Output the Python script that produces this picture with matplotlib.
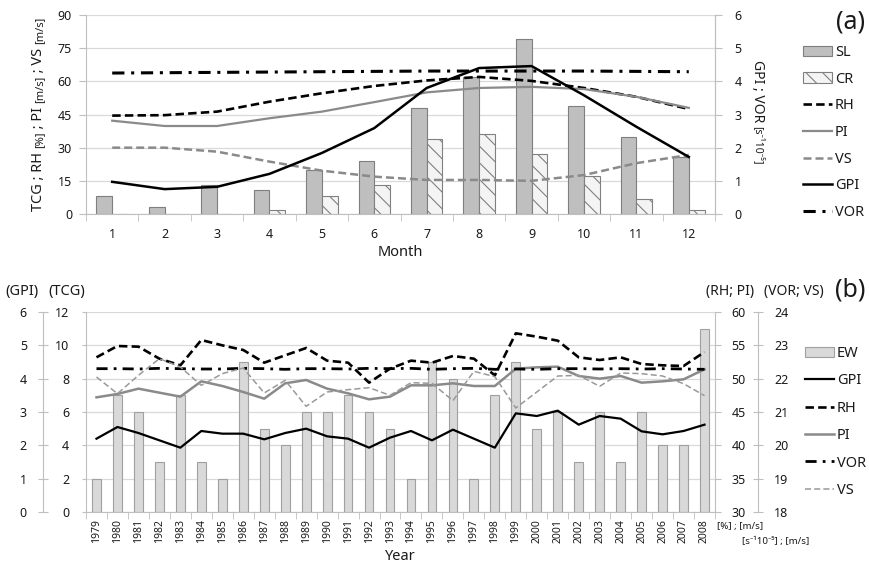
import numpy as np
import matplotlib.pyplot as plt

plt.rcParams['font.family'] = ['Noto Sans', 'DejaVu Sans']
plt.rcParams['hatch.color'] = '#808080'
plt.rcParams['hatch.linewidth'] = 0.8

# ---------------- data, panel (a): monthly climatology ----------------
months = [1, 2, 3, 4, 5, 6, 7, 8, 9, 10, 11, 12]
sl = [8, 3, 13, 11, 20, 24, 48, 62, 79, 49, 35, 26]
cr = [0, 0, 0, 2, 8, 13, 34, 36, 27, 17, 7, 2]
rh_m = [44.5, 44.7, 46.3, 50.8, 54.6, 57.9, 60.4, 62.0, 60.2, 57.0, 53.0, 47.5]
pi_m = [42.2, 39.8, 39.8, 43.3, 46.3, 50.6, 55.0, 57.0, 57.5, 56.5, 53.0, 48.0]
vs_m = [30.0, 30.0, 28.2, 23.7, 19.6, 16.9, 15.4, 15.4, 15.0, 17.6, 23.0, 26.7]
gpi_m = [0.97, 0.75, 0.82, 1.21, 1.84, 2.59, 3.80, 4.40, 4.46, 3.58, 2.63, 1.72]
vor_m = [4.25, 4.26, 4.27, 4.28, 4.29, 4.30, 4.31, 4.31, 4.31, 4.31, 4.30, 4.29]

# ---------------- data, panel (b): yearly values ----------------
years = list(range(1979, 2009))
ew = [2, 7, 6, 3, 7, 3, 2, 9, 5, 4, 6, 6, 7, 6, 5, 2, 9, 8, 2, 7,
      9, 5, 6, 3, 6, 3, 6, 4, 4, 11]
gpi_y = [2.20, 2.55, 2.37, 2.15, 1.93, 2.43, 2.35, 2.35, 2.18, 2.37,
         2.50, 2.27, 2.20, 1.93, 2.23, 2.43, 2.15, 2.47, 2.20, 1.93,
         2.96, 2.88, 3.04, 2.62, 2.88, 2.80, 2.42, 2.33, 2.43, 2.62]
rh_y = [53.2, 54.9, 54.8, 53.0, 52.0, 55.8, 55.0, 54.3, 52.4, 53.5,
        54.6, 52.7, 52.4, 49.4, 51.5, 52.7, 52.4, 53.4, 53.0, 50.5,
        56.8, 56.3, 55.7, 53.2, 52.8, 53.2, 52.2, 52.0, 51.9, 54.0]
pi_y = [47.2, 47.7, 48.5, 47.9, 47.3, 49.6, 48.9, 48.0, 47.0, 49.3,
        49.8, 48.5, 47.8, 46.9, 47.3, 49.0, 49.0, 49.3, 48.9, 48.9,
        51.5, 51.7, 51.8, 50.4, 50.0, 50.4, 49.4, 49.6, 49.9, 51.4]
vor_y = [22.30, 22.30, 22.29, 22.31, 22.30, 22.29, 22.29, 22.31, 22.30, 22.28,
         22.30, 22.30, 22.29, 22.31, 22.30, 22.31, 22.28, 22.30, 22.31, 22.28,
         22.29, 22.28, 22.30, 22.30, 22.29, 22.30, 22.29, 22.30, 22.29, 22.28]
vs_y = [22.05, 21.55, 22.10, 22.60, 22.35, 21.80, 22.15, 22.32, 21.57, 21.95,
        21.17, 21.60, 21.67, 21.73, 21.50, 21.88, 21.86, 21.34, 22.22, 22.06,
        21.12, 21.60, 22.08, 22.10, 21.77, 22.17, 22.15, 22.08, 21.85, 21.49]

W, H = 869, 566
GRID = '#d9d9d9'
AXC = '#bfbfbf'
TXT = '#1a1a1a'

fig = plt.figure(figsize=(W / 100, H / 100), dpi=100)


def style_axis(ax, side, length=5, direction='out', pad=6):
    ax.tick_params(axis='y', which='both', direction=direction, length=length,
                   color=AXC, labelsize=9, labelcolor=TXT, pad=pad,
                   left=(side == 'left'), right=(side == 'right'),
                   labelleft=(side == 'left'), labelright=(side == 'right'))


def stacked_label(x, yc, pieces, rotation):
    """Rotated label built from pieces with different font sizes."""
    r = fig.canvas.get_renderer()
    texts = [fig.text(0, 0, s, fontsize=fs, rotation=rotation, rotation_mode='anchor',
                      ha='left', va='baseline', color=TXT) for s, fs in pieces]
    lens = [t.get_window_extent(r).height for t in texts]
    sign = 1 if rotation == 90 else -1
    pos = yc * H - sign * sum(lens) / 2
    for t, L in zip(texts, lens):
        t.set_position((x / W, pos / H))
        pos += sign * L


# ======================= panel (a) =======================
ax = fig.add_axes([86 / W, 1 - 214 / H, 629 / W, 199 / H])
ax2 = ax.twinx()
m = np.array(months)

h_sl = ax.bar(m - 0.15, sl, width=0.3, color='#bfbfbf', edgecolor='#7f7f7f', lw=0.8)
h_cr = ax.bar(m + 0.15, cr, width=0.3, color='#f4f4f4', edgecolor='#808080', lw=0.8,
              hatch='\\\\')
h_rh, = ax.plot(m, rh_m, color='black', lw=1.9, ls=(0, (3.2, 1.6)))
h_pi, = ax.plot(m, pi_m, color='#8a8a8a', lw=1.6)
h_vs, = ax.plot(m, vs_m, color='#8a8a8a', lw=1.8, ls=(0, (3.2, 1.6)))
h_gpi, = ax2.plot(m, gpi_m, color='black', lw=1.8)
h_vor, = ax2.plot(m, vor_m, color='black', lw=2.2, ls=(0, (4, 2.2, 1, 2.2)))

ax.set_xlim(0.5, 12.5)
ax.set_ylim(0, 90)
ax.set_yticks(range(0, 91, 15))
ax2.set_ylim(0, 6)
ax2.set_yticks(range(0, 7))
ax.yaxis.grid(True, color=GRID, lw=0.9)
ax.set_axisbelow(True)
ax.set_xticks(months)
ax.set_xticks(np.arange(0.5, 13, 1), minor=True)
ax.tick_params(axis='x', which='major', length=0, labelsize=9, labelcolor=TXT, pad=10)
ax.tick_params(axis='x', which='minor', length=5, color=AXC)
style_axis(ax, 'left', pad=5)
style_axis(ax2, 'right', pad=9)
for a in (ax, ax2):
    a.spines['top'].set_visible(False)
    for s in ('left', 'right', 'bottom'):
        a.spines[s].set_color(AXC)
ax2.spines['left'].set_visible(False)
ax2.spines['bottom'].set_visible(False)
ax.set_xlabel('Month', fontsize=10.5, color=TXT, labelpad=3)

fig.text(865 / W, 1 - 22 / H, '(a)', fontsize=18, ha='right', va='center', color=TXT)
stacked_label(42, 1 - 114 / H, [('TCG ; RH ', 10.5), ('[%]', 8), (' ; PI ', 10.5),
                                ('[m/s]', 8), (' ; VS ', 10.5), ('[m/s]', 8)], 90)
stacked_label(754, 1 - 112 / H, [('GPI ; VOR ', 10), ('[s⁻¹10⁻⁵]', 7.5)], -90)

fig.legend([h_sl, h_cr, h_rh, h_pi, h_vs, h_gpi, h_vor],
           ['SL', 'CR', 'RH', 'PI', 'VS', 'GPI', 'VOR'],
           loc='upper left', bbox_to_anchor=(803 / W, 1 - 45 / H), frameon=False,
           fontsize=10.5, handlelength=2.0, handletextpad=0.2, labelspacing=0.8,
           borderpad=0, borderaxespad=0, labelcolor=TXT)

# ======================= panel (b) =======================
bx = fig.add_axes([86 / W, 1 - 512 / H, 629 / W, 200 / H])
b_gpi = bx.twinx()
b_rh = bx.twinx()
b_vor = bx.twinx()
y = np.array(years)

h_ew = bx.bar(y, ew, width=0.42, color='#d9d9d9', edgecolor='#a0a0a0', lw=0.8)
hb_gpi, = b_gpi.plot(y, gpi_y, color='black', lw=1.6)
hb_rh, = b_rh.plot(y, rh_y, color='black', lw=1.9, ls=(0, (3.2, 1.6)))
hb_pi, = b_rh.plot(y, pi_y, color='#8a8a8a', lw=1.8)
hb_vor, = b_vor.plot(y, vor_y, color='black', lw=2.0, ls=(0, (4, 2.2, 1, 2.2)))
hb_vs, = b_vor.plot(y, vs_y, color='#999999', lw=1.1, ls=(0, (4, 2)))

bx.set_xlim(1978.5, 2008.5)
bx.set_ylim(0, 12)
bx.set_yticks(range(0, 13, 2))
b_gpi.set_ylim(0, 6)
b_gpi.set_yticks(range(0, 7))
b_rh.set_ylim(30, 60)
b_rh.set_yticks(range(30, 61, 5))
b_vor.set_ylim(18, 24)
b_vor.set_yticks(range(18, 25))
bx.yaxis.grid(True, color=GRID, lw=0.9)
bx.set_axisbelow(True)
bx.set_xticks(years)
bx.set_xticklabels([str(v) for v in years], rotation=90)
bx.set_xticks(np.arange(1978.5, 2009, 1), minor=True)
bx.tick_params(axis='x', which='major', length=0, labelsize=7.5, labelcolor=TXT, pad=5)
bx.tick_params(axis='x', which='minor', length=5, color=AXC)

style_axis(bx, 'left', length=3, pad=9)
b_gpi.yaxis.set_ticks_position('left')
b_gpi.yaxis.set_label_position('left')
style_axis(b_gpi, 'left', length=7, direction='inout', pad=8)
b_gpi.spines['left'].set_position(('outward', 31))
style_axis(b_rh, 'right', length=4, pad=8)
style_axis(b_vor, 'right', length=7, direction='inout', pad=8)
b_vor.spines['right'].set_position(('outward', 31))

for a in (bx, b_gpi, b_rh, b_vor):
    for s in a.spines.values():
        s.set_visible(False)
for a, s in ((bx, 'left'), (bx, 'bottom'), (b_gpi, 'left'), (b_rh, 'right'), (b_vor, 'right')):
    a.spines[s].set_visible(True)
    a.spines[s].set_color(AXC)

bx.set_xlabel('Year', fontsize=10.5, color=TXT, labelpad=4)

fig.text(5 / W, 1 - 292 / H, '(GPI)', fontsize=10.5, ha='left', va='center', color=TXT)
fig.text(48 / W, 1 - 292 / H, '(TCG)', fontsize=10.5, ha='left', va='center', color=TXT)
fig.text(706 / W, 1 - 292 / H, '(RH; PI)', fontsize=10, ha='left', va='center', color=TXT)
fig.text(764 / W, 1 - 292 / H, '(VOR; VS)', fontsize=10, ha='left', va='center', color=TXT)
fig.text(865 / W, 1 - 290 / H, '(b)', fontsize=18, fontweight='bold', ha='right',
         va='center', color=TXT)
fig.text(717 / W, 1 - 526 / H, '[%] ; [m/s]', fontsize=7, ha='left', va='center', color=TXT)
fig.text(742 / W, 1 - 541 / H, '[s⁻¹10⁻⁵] ; [m/s]', fontsize=7, ha='left', va='center',
         color=TXT)

fig.legend([h_ew, hb_gpi, hb_rh, hb_pi, hb_vor, hb_vs],
           ['EW', 'GPI', 'RH', 'PI', 'VOR', 'VS'],
           loc='upper left', bbox_to_anchor=(805 / W, 1 - 346 / H), frameon=False,
           fontsize=10.5, handlelength=2.0, handletextpad=0.2, labelspacing=0.85,
           borderpad=0, borderaxespad=0, labelcolor=TXT)

fig.savefig('out.png', dpi=100)
